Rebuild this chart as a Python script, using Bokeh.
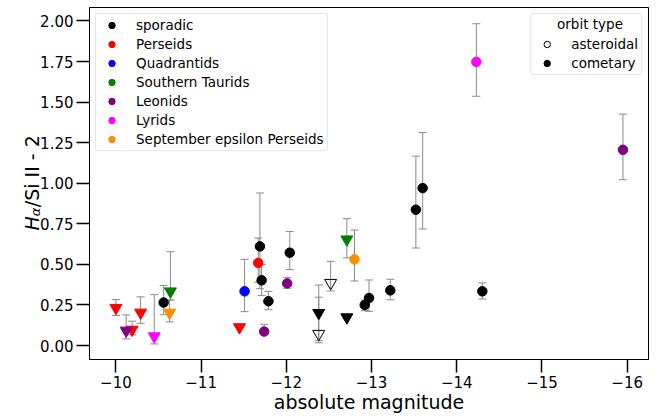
import math
from bokeh.plotting import figure
from bokeh.models import (ColumnDataSource, Range1d, FixedTicker, Whisker, TeeHead,
                          Legend, LegendItem, Label)
from bokeh.embed import file_html
from bokeh.resources import INLINE

NaN = float("nan")

# ---------------- data ----------------
shower = (["sporadic"] * 15 + ["Perseids"] * 5 + ["Quadrantids"] + ["Southern Taurids"] * 2
          + ["Leonids"] * 4 + ["Lyrids"] * 2 + ["September epsilon Perseids"] * 2)
abs_mag = [-10.56, -11.69, -11.71, -11.79, -12.04, -12.38, -12.38, -12.52, -12.71, -12.92,
           -12.97, -13.22, -13.52, -13.60, -14.30,
           -10.00, -10.19, -10.29, -11.45, -11.67,
           -11.51,
           -10.64, -12.71,
           -10.12, -11.74, -12.01, -15.95,
           -10.45, -14.23,
           -10.63, -12.80]
ratio = [0.265, 0.611, 0.402, 0.273, 0.572, 0.201, 0.072, 0.386, 0.174, 0.250,
         0.293, 0.340, 0.837, 0.970, 0.334,
         0.232, 0.098, 0.203, 0.113, 0.509,
         0.334,
         0.334, 0.654,
         0.092, 0.086, 0.383, 1.206,
         0.057, 1.748,
         0.203, 0.531]
err_low = [0.190, 0.350, 0.308, 0.221, 0.468, 0.030, 0.017, 0.336, NaN, 0.215,
           0.211, 0.282, 0.601, 0.718, 0.287,
           0.185, 0.066, 0.137, NaN, 0.390,
           0.209,
           0.280, 0.540,
           0.041, 0.070, 0.353, 1.022,
           0.010, 1.536,
           0.146, 0.398]
err_high = [0.371, 0.940, 0.500, 0.334, 0.703, 0.373, 0.298, 0.519, NaN, 0.280,
            0.404, 0.408, 1.167, 1.313, 0.386,
            0.283, 0.150, 0.300, NaN, 0.663,
            0.531,
            0.578, 0.782,
            0.189, 0.131, 0.420, 1.426,
            0.314, 1.983,
            0.281, 0.712]
shape = (["circle"] * 5 + ["triangle"] * 4 + ["circle"] * 6
         + ["triangle"] * 4 + ["circle"]
         + ["circle"]
         + ["triangle"] * 2
         + ["triangle"] + ["circle"] * 3
         + ["triangle", "circle"]
         + ["triangle", "circle"])
orbit = (["cometary"] * 6 + ["asteroidal"] * 2 + ["cometary"] * 7
         + ["cometary"] * 16)

legend_showers = ["sporadic", "Perseids", "Quadrantids", "Southern Taurids",
                  "Leonids", "Lyrids", "September epsilon Perseids"]
orbit_types = ["asteroidal", "cometary"]
orbit_title = "orbit type"

x_ticks = [-10, -11, -12, -13, -14, -15, -16]
x_tick_labels = ["\u221210", "\u221211", "\u221212", "\u221213", "\u221214", "\u221215", "\u221216"]
y_ticks = [0.0, 0.25, 0.5, 0.75, 1.0, 1.25, 1.5, 1.75, 2.0]
y_tick_labels = ["0.00", "0.25", "0.50", "0.75", "1.00", "1.25", "1.50", "1.75", "2.00"]

# ---------------- styles ----------------
COLORS = {"sporadic": "black", "Perseids": "red", "Quadrantids": "blue",
          "Southern Taurids": "green", "Leonids": "purple", "Lyrids": "magenta",
          "September epsilon Perseids": "darkorange"}
MARKERS = {"circle": "circle", "triangle": "inverted_triangle"}
SIZES = {"circle": 9.5, "triangle": 12}
FONT = "DejaVu Sans"

p = figure(width=670, height=416, output_backend="svg", toolbar_location=None,
           x_range=Range1d(-9.69, -16.25), y_range=Range1d(-0.086, 2.083),
           min_border_left=88, min_border_right=21, min_border_top=7, min_border_bottom=57)
p.background_fill_color = "white"
p.border_fill_color = "white"
p.grid.visible = False
p.outline_line_color = "black"
p.outline_line_width = 1

for ax in (p.xaxis, p.yaxis):
    ax.axis_line_color = "black"
    ax.axis_line_width = 1
    ax.major_tick_line_color = "black"
    ax.major_tick_line_width = 1.5
    ax.major_tick_out = 13
    ax.major_tick_in = 0
    ax.minor_tick_line_color = None
    ax.major_label_text_font = FONT
    ax.major_label_text_font_size = "15px"
    ax.major_label_text_color = "black"
    ax.major_label_standoff = 3

p.xaxis.ticker = FixedTicker(ticks=x_ticks)
p.xaxis.major_label_overrides = dict(zip(x_ticks, x_tick_labels))
p.yaxis.ticker = FixedTicker(ticks=y_ticks)
p.yaxis.major_label_overrides = dict(zip(y_ticks, y_tick_labels))
p.xaxis.axis_label = "absolute magnitude"
p.xaxis.axis_label_text_font = FONT
p.xaxis.axis_label_text_font_style = "normal"
p.xaxis.axis_label_text_font_size = "19px"
p.xaxis.axis_label_text_color = "black"
p.xaxis.axis_label_standoff = 0
p.yaxis.axis_label = None

# error bars
eb = {"x": [], "lo": [], "hi": []}
for xv, lo, hi in zip(abs_mag, err_low, err_high):
    if not (math.isnan(lo) or math.isnan(hi)):
        eb["x"].append(xv); eb["lo"].append(lo); eb["hi"].append(hi)
eb_src = ColumnDataSource(eb)
tee = dict(size=8, line_color="#8a8a8a", line_width=1)
wh = Whisker(base="x", lower="lo", upper="hi", dimension="height", source=eb_src,
             line_color="#8a8a8a", line_width=1, level="underlay",
             upper_head=TeeHead(**tee), lower_head=TeeHead(**tee))
p.add_layout(wh)

# points
src = ColumnDataSource(dict(
    x=abs_mag, y=ratio,
    marker=[MARKERS[s] for s in shape],
    size=[SIZES[s] for s in shape],
    color=[COLORS[s] for s in shower],
    fill_alpha=[0.0 if o == "asteroidal" else 1.0 for o in orbit],
))
p.scatter(x="x", y="y", marker="marker", size="size", fill_color="color",
          line_color="color", fill_alpha="fill_alpha", line_width=1, source=src)

# legend 1 (showers)
items1 = []
for s in legend_showers:
    r = p.scatter(x=[-100], y=[-100], marker="circle", size=7, fill_color=COLORS[s],
                  line_color=COLORS[s])
    items1.append(LegendItem(label=s, renderers=[r]))
leg1 = Legend(items=items1, location="top_left")

# legend 2 (orbit type); its title row is reserved with a blank and drawn centred below
r_ast = p.scatter(x=[-100], y=[-100], marker="circle", size=7, fill_color="white",
                  line_color="black", line_width=1)
r_com = p.scatter(x=[-100], y=[-100], marker="circle", size=7, fill_color="black",
                  line_color="black")
leg2 = Legend(items=[LegendItem(label=orbit_types[0], renderers=[r_ast]),
                     LegendItem(label=orbit_types[1], renderers=[r_com])],
              location="top_right", title=" ")

for lg in (leg1, leg2):
    lg.margin = 6
    lg.padding = 3
    lg.spacing = 3
    lg.glyph_width = 25
    lg.glyph_height = 16
    lg.label_height = 16
    lg.label_standoff = 12
    lg.label_text_font = FONT
    lg.label_text_font_size = "13.5px"
    lg.label_text_color = "black"
    lg.border_line_color = "#cccccc"
    lg.border_line_width = 1
    lg.background_fill_color = "white"
    lg.background_fill_alpha = 0.8
    try:
        lg.border_radius = 3
    except Exception:
        pass
# nothing lies beneath the second legend, so its fill can be transparent
leg2.background_fill_alpha = 0.0
leg2.title_text_font = FONT
leg2.title_text_font_size = "13.5px"
leg2.title_standoff = 3
p.add_layout(leg1)
p.add_layout(leg2)

# centred legend title (canvas coordinates)
p.add_layout(Label(x=589.5, y=23.5, x_units="canvas", y_units="canvas", text=orbit_title,
                   text_font=FONT, text_font_size="13.5px", text_align="center",
                   text_baseline="middle", text_color="black", level="overlay"))

# y-axis label built from pieces: italic H, italic subscript alpha, "/Si II - 2"
# (canvas coordinates; placed in side panels so that they are not clipped to the frame)
lab_common = dict(x_units="canvas", y_units="canvas", angle=math.pi / 2,
                  text_font=FONT, text_align="left", text_baseline="alphabetic",
                  text_color="black")
p.add_layout(Label(x=31, y=206.7, text="/Si II - 2", text_font_style="normal",
                   text_font_size="19px", **lab_common), "left")
p.add_layout(Label(x=35, y=215.7, text="\u03b1", text_font_style="italic",
                   text_font_size="13px", **lab_common), "left")
p.add_layout(Label(x=31, y=230, text="H", text_font_style="italic",
                   text_font_size="19px", **lab_common), "right")

open("out.html", "w").write(file_html(p, INLINE))
